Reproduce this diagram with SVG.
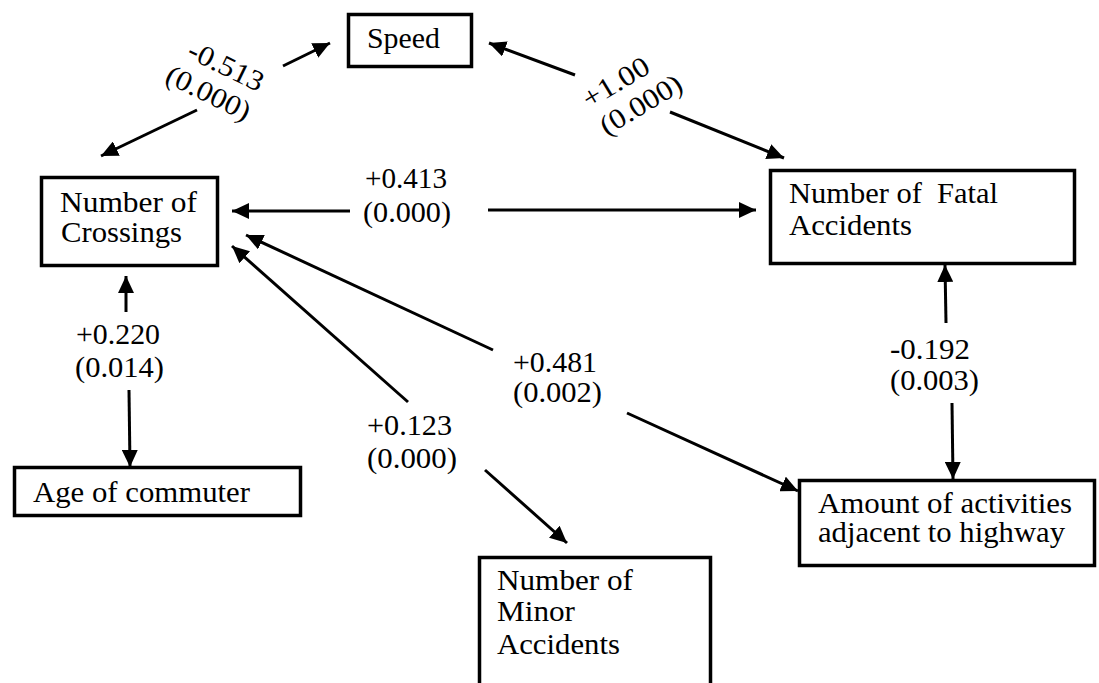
<svg xmlns="http://www.w3.org/2000/svg" width="1099" height="683" viewBox="0 0 1099 683">
<style>
.box{fill:#fff;stroke:#000;stroke-width:3.5}
text{font-family:"Liberation Serif","Times New Roman",serif;font-size:28.5px;fill:#000}
.c{stroke:#000;stroke-width:3;fill:none;marker-end:url(#ah)}
</style>
<defs>
<marker id="ah" markerUnits="userSpaceOnUse" markerWidth="18" markerHeight="16" refX="17" refY="8" orient="auto">
<path d="M0,0 L17,8 L0,16 z" fill="#000"/>
</marker>
</defs>
<rect width="1099" height="683" fill="#fff"/>
<g id="connectors">
<line class="c" x1="283" y1="66" x2="330" y2="43"/>
<line class="c" x1="197" y1="110" x2="101" y2="156"/>
<line class="c" x1="575" y1="75" x2="489" y2="43"/>
<line class="c" x1="670" y1="112" x2="784" y2="158"/>
<line class="c" x1="350" y1="211" x2="232" y2="211"/>
<line class="c" x1="488" y1="210" x2="756" y2="210"/>
<line class="c" x1="126" y1="312" x2="126" y2="276"/>
<line class="c" x1="129" y1="390" x2="130" y2="467"/>
<line class="c" x1="493" y1="350" x2="246" y2="235"/>
<line class="c" x1="627" y1="413" x2="798" y2="491"/>
<line class="c" x1="408" y1="402" x2="232" y2="246"/>
<line class="c" x1="485" y1="470" x2="567" y2="543"/>
<line class="c" x1="946" y1="323" x2="945" y2="265"/>
<line class="c" x1="952" y1="403" x2="953" y2="479"/>
</g>
<g id="labels">
<g transform="translate(217.5,79) rotate(26)">
<text x="2" y="-6" text-anchor="middle" textLength="81" lengthAdjust="spacingAndGlyphs">-0.513</text>
<text x="-2" y="26" text-anchor="middle" textLength="91" lengthAdjust="spacingAndGlyphs">(0.000)</text>
</g>
<g transform="translate(628,93) rotate(-31)">
<text x="-5" y="-6" text-anchor="middle" textLength="73" lengthAdjust="spacingAndGlyphs">+1.00</text>
<text x="5" y="26" text-anchor="middle" textLength="91" lengthAdjust="spacingAndGlyphs">(0.000)</text>
</g>
<text x="365" y="188" textLength="82" lengthAdjust="spacingAndGlyphs">+0.413</text>
<text x="363" y="222" textLength="88" lengthAdjust="spacingAndGlyphs">(0.000)</text>
<text x="76" y="344" textLength="84" lengthAdjust="spacingAndGlyphs">+0.220</text>
<text x="75" y="377" textLength="89" lengthAdjust="spacingAndGlyphs">(0.014)</text>
<text x="513" y="372" textLength="84" lengthAdjust="spacingAndGlyphs">+0.481</text>
<text x="513" y="402" textLength="89" lengthAdjust="spacingAndGlyphs">(0.002)</text>
<text x="367" y="435" textLength="85" lengthAdjust="spacingAndGlyphs">+0.123</text>
<text x="367" y="468" textLength="90" lengthAdjust="spacingAndGlyphs">(0.000)</text>
<text x="890" y="359" textLength="80" lengthAdjust="spacingAndGlyphs">-0.192</text>
<text x="890" y="390" textLength="89" lengthAdjust="spacingAndGlyphs">(0.003)</text>
</g>
<g id="speed">
<rect class="box" x="348.5" y="14.5" width="123" height="52"/>
<text x="367" y="48" textLength="73" lengthAdjust="spacingAndGlyphs">Speed</text>
</g>
<g id="crossings">
<rect class="box" x="41.5" y="177.5" width="176" height="88"/>
<text x="60" y="212" textLength="137" lengthAdjust="spacingAndGlyphs">Number of</text>
<text x="61" y="242" textLength="121" lengthAdjust="spacingAndGlyphs">Crossings</text>
</g>
<g id="fatal">
<rect class="box" x="770.5" y="170.5" width="304" height="93"/>
<text x="789" y="203" textLength="209" lengthAdjust="spacingAndGlyphs" xml:space="preserve">Number of  Fatal</text>
<text x="789" y="235" textLength="123" lengthAdjust="spacingAndGlyphs">Accidents</text>
</g>
<g id="age">
<rect class="box" x="14.5" y="467.5" width="286" height="48"/>
<text x="33" y="502" textLength="217" lengthAdjust="spacingAndGlyphs">Age of commuter</text>
</g>
<g id="amount">
<rect class="box" x="799.5" y="480.5" width="295" height="85"/>
<text x="818" y="513" textLength="254" lengthAdjust="spacingAndGlyphs">Amount of activities</text>
<text x="818" y="542" textLength="247" lengthAdjust="spacingAndGlyphs">adjacent to highway</text>
</g>
<g id="minor">
<rect class="box" x="479.5" y="557.5" width="231" height="150"/>
<text x="497" y="590" textLength="136" lengthAdjust="spacingAndGlyphs">Number of</text>
<text x="497" y="621" textLength="78" lengthAdjust="spacingAndGlyphs">Minor</text>
<text x="497" y="654" textLength="123" lengthAdjust="spacingAndGlyphs">Accidents</text>
</g>
</svg>
